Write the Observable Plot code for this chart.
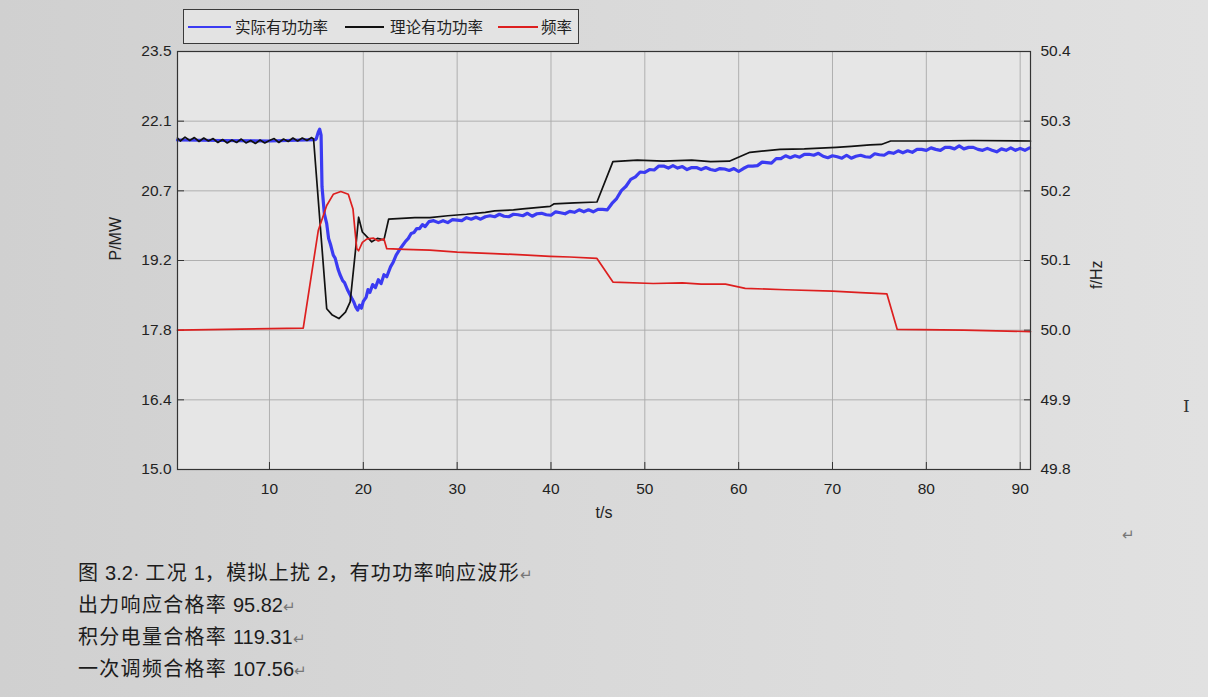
<!DOCTYPE html>
<html><head><meta charset="utf-8">
<script src="https://cdn.jsdelivr.net/npm/d3@7"></script>
<script src="https://cdn.jsdelivr.net/npm/@observablehq/plot@0.6"></script>
<style>
html,body{margin:0;padding:0;}
body{width:1208px;height:697px;position:relative;overflow:hidden;background:linear-gradient(90deg,#d0d0d0 0%,#d9d9d9 50%,#e1e1e1 100%);font-family:"Liberation Sans",Arial,sans-serif;}
#chart{position:absolute;left:0;top:0;}
#legend{position:absolute;left:183px;top:9px;width:394px;height:33px;border:1px solid #3a3a3a;background:#e3e3e3;font-family:"Noto Sans CJK SC",sans-serif;font-size:15.5px;color:#222;}
#legend .ln{position:absolute;top:16px;height:0;border-top:2px solid;}
#legend .tx{position:absolute;top:5px;line-height:22px;white-space:nowrap;}
#caption{position:absolute;left:78px;top:556px;font-family:"Noto Sans CJK SC",sans-serif;font-size:20px;color:#1c1c1c;letter-spacing:1.3px;}
#caption div{height:32px;line-height:32px;white-space:nowrap;}
#caption .num{font-family:"Liberation Sans",Arial,sans-serif;letter-spacing:0;}
.mk{color:#777;font-size:15px;letter-spacing:0;}
#mark2{position:absolute;left:1122px;top:526px;color:#777;font-size:15px;}
#cursor{position:absolute;left:1183px;top:396px;color:#333;font-family:"DejaVu Serif",serif;font-size:17px;}
</style></head>
<body>
<div id="chart"></div>
<div id="legend">
  <div class="ln" style="left:4px;width:43px;border-color:#3b3bf2"></div>
  <div class="tx" style="left:51px">实际有功功率</div>
  <div class="ln" style="left:161px;width:39px;border-color:#111"></div>
  <div class="tx" style="left:206px">理论有功功率</div>
  <div class="ln" style="left:314px;width:40px;border-color:#dd1f1f"></div>
  <div class="tx" style="left:357px">频率</div>
</div>
<div id="caption">
  <div>图 <span class="num">3.2·</span> 工况 <span class="num">1</span>，模拟上扰 <span class="num">2</span>，有功功率响应波形<span class="mk">↵</span></div>
  <div>出力响应合格率 <span class="num">95.82</span><span class="mk">↵</span></div>
  <div>积分电量合格率 <span class="num">119.31</span><span class="mk">↵</span></div>
  <div>一次调频合格率 <span class="num">107.56</span><span class="mk">↵</span></div>
</div>
<div id="mark2">↵</div>
<div id="cursor">I</div>
<script>
// ---------- data ----------
const xTicks = [10, 20, 30, 40, 50, 60, 70, 80, 90];
const pTicks = [15.0, 16.4167, 17.8333, 19.25, 20.6667, 22.0833, 23.5];
const pTickLabels = ["15.0", "16.4", "17.8", "19.2", "20.7", "22.1", "23.5"];
const fTicks = [49.8, 49.9, 50.0, 50.1, 50.2, 50.3, 50.4];
const fTickLabels = ["49.8", "49.9", "50.0", "50.1", "50.2", "50.3", "50.4"];

// 理论有功功率 (MW)
const tTheory = [0.2,0.5,1,1.5,2,2.5,3,3.5,4,4.5,5,5.5,6,6.5,7,7.5,8,8.5,9,9.5,10,10.5,11,11.5,12,12.5,13,13.5,14,14.5,14.7,
  15.4,16.1,16.7,17.4,18.1,18.6,19.15,19.5,19.9,20.4,20.9,21.5,22.2,22.7,25.5,27.1,29,31,33,34,36,37,39.9,40.3,42.5,44.9,46.6,49.2,52,55,57,59,61.2,64.4,67,70.4,72,74,75.2,76.2,80,85,91.1];
const pTheory = [21.74,21.68,21.76,21.69,21.75,21.67,21.74,21.68,21.73,21.65,21.71,21.64,21.70,21.65,21.72,21.64,21.69,21.63,21.70,21.64,21.69,21.73,21.65,21.72,21.67,21.74,21.68,21.74,21.69,21.75,21.72,
  19.99,18.27,18.14,18.07,18.20,18.41,19.42,20.13,19.83,19.73,19.63,19.70,19.67,20.09,20.12,20.12,20.16,20.19,20.23,20.26,20.28,20.30,20.35,20.40,20.42,20.44,21.26,21.29,21.27,21.29,21.26,21.27,21.45,21.51,21.52,21.55,21.57,21.60,21.61,21.68,21.68,21.69,21.68];

// 实际有功功率 (MW)
const tActual = [0.2,5,10,14.9,15.0,15.2,15.35,15.5,15.6,15.85,16.1,16.3,16.5,16.8,17.0,17.3,17.5,17.8,18.0,18.3,18.6,18.8,19.0,19.2,19.4,19.6,19.8,20.0,20.3,20.5,20.7,21.0,21.3,21.6,21.9,22.2,22.5,22.9,23.2,23.5,23.9,24.2,24.5,24.8,25.1,25.4,25.7,26.0,26.3,26.6,27.0,
  27.5,28,28.5,29,29.5,30,30.5,31,31.5,32,32.5,33,33.5,34,34.5,35,35.5,36,36.5,37,37.5,38,38.5,39,39.5,40,40.5,41,41.5,42,42.5,43,43.5,44,44.5,45,45.5,46,46.5,47,47.5,48,48.5,49,49.5,50,50.5,51,51.5,52,52.5,53,53.5,54,54.5,55,55.5,56,56.5,57,57.5,58,58.5,59,59.5,60,60.5,61,61.5,62,62.5,63,63.5,64,64.5,65,65.5,66,66.5,67,67.5,68,68.5,69,69.5,70,70.5,71,71.5,72,72.5,73,73.5,74,74.5,75,75.5,76,76.5,77,77.5,78,78.5,79,79.5,80,80.5,81,81.5,82,82.5,83,83.5,84,84.5,85,85.5,86,86.5,87,87.5,88,88.5,89,89.5,90,90.5,91];
const pActual = [21.70,21.69,21.68,21.71,21.73,21.86,21.92,21.80,20.75,20.20,20.00,19.70,19.58,19.36,19.30,19.08,18.97,18.84,18.80,18.66,18.55,18.47,18.40,18.30,18.24,18.34,18.28,18.42,18.50,18.66,18.60,18.76,18.70,18.86,18.78,18.96,18.92,19.12,19.22,19.36,19.48,19.56,19.64,19.70,19.80,19.82,19.90,19.90,19.98,19.94,20.04,
  20.06,20.02,20.06,20.02,20.08,20.07,20.06,20.12,20.09,20.13,20.09,20.14,20.16,20.14,20.19,20.15,20.14,20.19,20.18,20.16,20.21,20.15,20.20,20.21,20.18,20.17,20.24,20.22,20.20,20.25,20.23,20.28,20.24,20.28,20.24,20.29,20.29,20.28,20.41,20.51,20.67,20.76,20.90,20.95,21.05,21.04,21.10,21.09,21.17,21.17,21.13,21.18,21.13,21.16,21.10,21.14,21.14,21.10,21.14,21.10,21.08,21.12,21.11,21.08,21.12,21.06,21.12,21.17,21.17,21.18,21.25,21.24,21.23,21.32,21.32,21.38,21.34,21.38,21.35,21.41,21.41,21.39,21.43,21.37,21.34,21.38,21.36,21.33,21.39,21.33,21.37,21.39,21.36,21.35,21.42,21.40,21.39,21.45,21.43,21.48,21.44,21.48,21.45,21.51,21.51,21.49,21.54,21.51,21.49,21.55,21.55,21.52,21.58,21.52,21.55,21.55,21.51,21.49,21.53,21.49,21.46,21.52,21.49,21.54,21.49,21.53,21.49,21.54];

// 频率 (Hz)
const tFreq = [0.2,13.6,15.2,16.1,16.8,17.6,18.4,18.9,19.1,19.3,19.5,19.9,20.4,21.1,21.6,22.2,22.5,24.4,27.1,30,33.9,37,39.9,42,44.9,46.6,50.9,54,56,58.6,60.7,65,70,73,75.8,76.9,84,91.1];
const fFreq = [50.000,50.003,50.143,50.179,50.195,50.199,50.195,50.174,50.145,50.117,50.114,50.126,50.131,50.132,50.128,50.131,50.117,50.116,50.115,50.112,50.110,50.108,50.106,50.105,50.103,50.069,50.067,50.068,50.066,50.066,50.060,50.058,50.056,50.054,50.052,50.001,50.000,49.998];

// ---------- chart ----------
const pDomain = [15, 23.5];
const fDomain = [49.8, 50.4];
const fToP = f => pDomain[0] + (f - fDomain[0]) / (fDomain[1] - fDomain[0]) * (pDomain[1] - pDomain[0]);
const labelOf = (vals, labels) => d => { const i = vals.findIndex(v => Math.abs(v - d) < 1e-3); return i < 0 ? "" : labels[i]; };
const fTicksP = fTicks.map(fToP);

const tickFont = {fontSize: 15.5, fontFamily: "Liberation Sans, Arial, sans-serif"};
const chart = Plot.plot({
  width: 1208,
  height: 545,
  marginLeft: 177,
  marginRight: 178,
  marginTop: 51,
  marginBottom: 76,
  style: {background: "transparent", color: "#222", fontFamily: "Liberation Sans, Arial, sans-serif", fontSize: "15.5px"},
  x: {domain: [0.2, 91.1]},
  y: {domain: pDomain},
  marks: [
    Plot.frame({fill: "#e6e6e6", stroke: null}),
    Plot.gridX({ticks: xTicks, stroke: "#a9a9a9", strokeOpacity: 1, strokeWidth: 0.9}),
    Plot.gridY({ticks: pTicks, stroke: "#a9a9a9", strokeOpacity: 1, strokeWidth: 0.9}),
    Plot.axisX({ticks: xTicks, tickSize: 0, tickPadding: 13, label: null, ...tickFont}),
    Plot.axisX({ticks: xTicks, tickSize: -7, tickFormat: () => "", label: null, stroke: "#333"}),
    Plot.axisY({anchor: "left", ticks: pTicks, tickSize: 0, tickPadding: 6, tickFormat: labelOf(pTicks, pTickLabels), label: null, ...tickFont}),
    Plot.axisY({anchor: "left", ticks: pTicks, tickSize: -7, tickFormat: () => "", label: null, stroke: "#333"}),
    Plot.axisY({anchor: "right", ticks: fTicksP, tickSize: 0, tickPadding: 10, tickFormat: labelOf(fTicksP, fTickLabels), label: null, ...tickFont}),
    Plot.axisY({anchor: "right", ticks: fTicksP, tickSize: -7, tickFormat: () => "", label: null, stroke: "#333"}),
    Plot.line(pActual, {x: tActual, y: d => d, stroke: "#3b3bf2", strokeWidth: 3.2, strokeLinejoin: "round"}),
    Plot.line(pTheory, {x: tTheory, y: d => d, stroke: "#111", strokeWidth: 1.7}),
    Plot.line(fFreq, {x: tFreq, y: d => fToP(d), stroke: "#dd1f1f", strokeWidth: 1.7}),
    Plot.frame({stroke: "#333", strokeWidth: 1.2}),
    Plot.text(["P/MW"], {frameAnchor: "left", dx: -62, rotate: -90, fontSize: 16, fill: "#222"}),
    Plot.text(["f/Hz"], {frameAnchor: "right", dx: 66, rotate: -90, fontSize: 16, fill: "#222"}),
    Plot.text(["t/s"], {frameAnchor: "bottom", dy: 48, fontSize: 16, fill: "#222"})
  ]
});
document.getElementById("chart").appendChild(chart);
</script>
</body></html>
